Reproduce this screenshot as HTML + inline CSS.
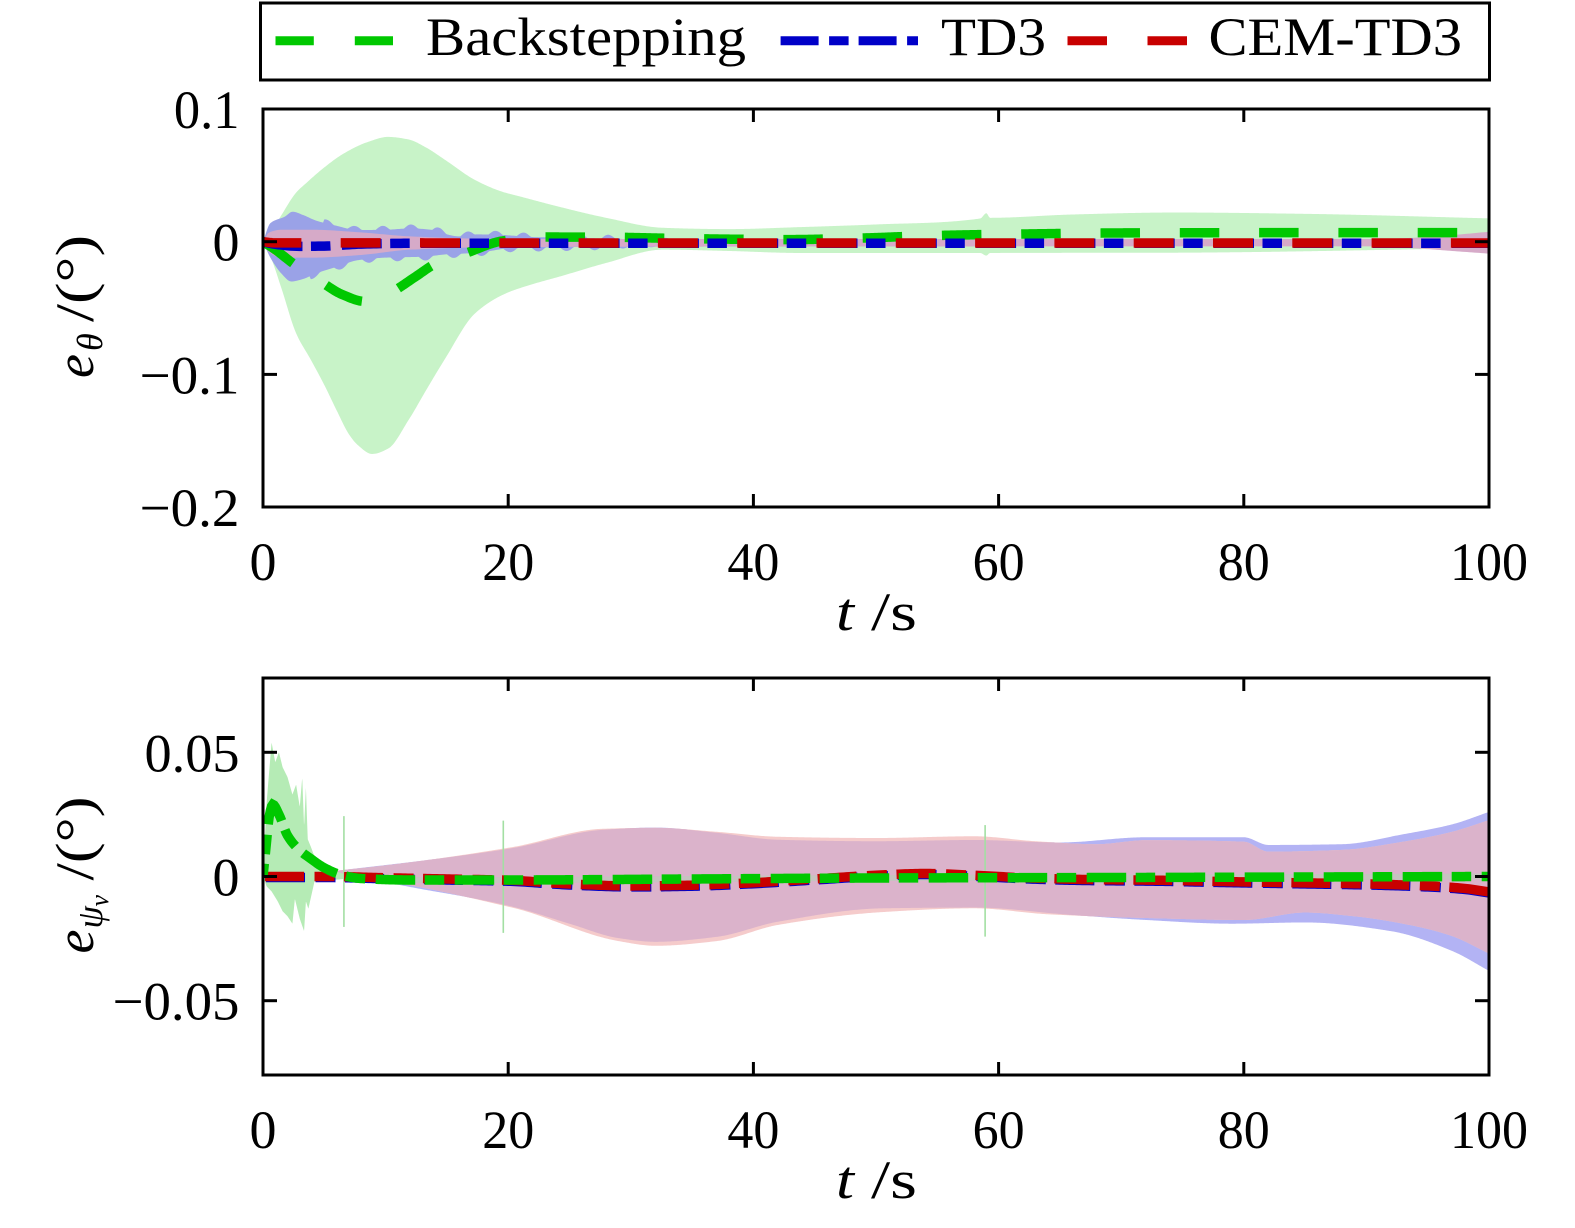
<!DOCTYPE html>
<html>
<head>
<meta charset="utf-8">
<style>
html,body{margin:0;padding:0;background:#fff;overflow:hidden;}
svg{display:block;}
text{font-family:"Liberation Serif","DejaVu Serif",serif;fill:#000;}
</style>
</head>
<body>
<svg id="svg" xmlns="http://www.w3.org/2000/svg" width="1575" height="1228" viewBox="0 0 1575 1228">
<defs>
<clipPath id="c1"><rect x="263" y="109" width="1226" height="398"/></clipPath>
<clipPath id="c2"><rect x="263" y="678" width="1226" height="397"/></clipPath>
</defs>
<rect x="0" y="0" width="1575" height="1228" fill="#fff"/>
<g id="p1" clip-path="url(#c1)"></g>
<g id="p2" clip-path="url(#c2)"></g>

<!-- Frames -->
<rect x="263" y="109" width="1226" height="398" fill="none" stroke="#000" stroke-width="3"/>
<rect x="263" y="678" width="1226" height="397" fill="none" stroke="#000" stroke-width="3"/>

<!-- Ticks top plot -->
<g stroke="#000" stroke-width="3">
<line x1="508.2" y1="109" x2="508.2" y2="122"/><line x1="753.4" y1="109" x2="753.4" y2="122"/><line x1="998.6" y1="109" x2="998.6" y2="122"/><line x1="1243.8" y1="109" x2="1243.8" y2="122"/>
<line x1="508.2" y1="507" x2="508.2" y2="494"/><line x1="753.4" y1="507" x2="753.4" y2="494"/><line x1="998.6" y1="507" x2="998.6" y2="494"/><line x1="1243.8" y1="507" x2="1243.8" y2="494"/>
<line x1="263" y1="241.7" x2="277" y2="241.7"/><line x1="263" y1="374.4" x2="277" y2="374.4"/>
<line x1="1489" y1="241.7" x2="1475" y2="241.7"/><line x1="1489" y1="374.4" x2="1475" y2="374.4"/>
<!-- bottom plot -->
<line x1="508.2" y1="678" x2="508.2" y2="691"/><line x1="753.4" y1="678" x2="753.4" y2="691"/><line x1="998.6" y1="678" x2="998.6" y2="691"/><line x1="1243.8" y1="678" x2="1243.8" y2="691"/>
<line x1="508.2" y1="1075" x2="508.2" y2="1062"/><line x1="753.4" y1="1075" x2="753.4" y2="1062"/><line x1="998.6" y1="1075" x2="998.6" y2="1062"/><line x1="1243.8" y1="1075" x2="1243.8" y2="1062"/>
<line x1="263" y1="752.3" x2="277" y2="752.3"/><line x1="263" y1="876.5" x2="277" y2="876.5"/><line x1="263" y1="1000.7" x2="277" y2="1000.7"/>
<line x1="1489" y1="752.3" x2="1475" y2="752.3"/><line x1="1489" y1="876.5" x2="1475" y2="876.5"/><line x1="1489" y1="1000.7" x2="1475" y2="1000.7"/>
</g>

<!-- Tick labels top -->
<g font-size="54">
<text x="239.5" y="128" text-anchor="end" textLength="65.6" lengthAdjust="spacingAndGlyphs">0.1</text>
<text x="239.5" y="260.7" text-anchor="end">0</text>
<text x="239.5" y="393.4" text-anchor="end" textLength="100" lengthAdjust="spacingAndGlyphs">−0.1</text>
<text x="239.5" y="526" text-anchor="end" textLength="100" lengthAdjust="spacingAndGlyphs">−0.2</text>
<text x="263" y="580" text-anchor="middle">0</text>
<text x="508.2" y="580" text-anchor="middle" textLength="52" lengthAdjust="spacingAndGlyphs">20</text>
<text x="753.4" y="580" text-anchor="middle" textLength="52" lengthAdjust="spacingAndGlyphs">40</text>
<text x="998.6" y="580" text-anchor="middle" textLength="52" lengthAdjust="spacingAndGlyphs">60</text>
<text x="1243.8" y="580" text-anchor="middle" textLength="52" lengthAdjust="spacingAndGlyphs">80</text>
<text x="1489" y="580" text-anchor="middle" textLength="78" lengthAdjust="spacingAndGlyphs">100</text>
<!-- bottom -->
<text x="239.5" y="771.3" text-anchor="end" textLength="95" lengthAdjust="spacingAndGlyphs">0.05</text>
<text x="239.5" y="895.5" text-anchor="end">0</text>
<text x="239.5" y="1019.7" text-anchor="end" textLength="127" lengthAdjust="spacingAndGlyphs">−0.05</text>
<text x="263" y="1148" text-anchor="middle">0</text>
<text x="508.2" y="1148" text-anchor="middle" textLength="52" lengthAdjust="spacingAndGlyphs">20</text>
<text x="753.4" y="1148" text-anchor="middle" textLength="52" lengthAdjust="spacingAndGlyphs">40</text>
<text x="998.6" y="1148" text-anchor="middle" textLength="52" lengthAdjust="spacingAndGlyphs">60</text>
<text x="1243.8" y="1148" text-anchor="middle" textLength="52" lengthAdjust="spacingAndGlyphs">80</text>
<text x="1489" y="1148" text-anchor="middle" textLength="78" lengthAdjust="spacingAndGlyphs">100</text>
</g>

<!-- x axis labels -->
<g font-size="54">
<text x="836" y="630" font-style="italic" textLength="18" lengthAdjust="spacingAndGlyphs">t</text>
<text x="871" y="630" textLength="46" lengthAdjust="spacingAndGlyphs">/s</text>
<text x="836" y="1198" font-style="italic" textLength="18" lengthAdjust="spacingAndGlyphs">t</text>
<text x="871" y="1198" textLength="46" lengthAdjust="spacingAndGlyphs">/s</text>
</g>

<!-- y axis labels (rotated) -->
<g transform="translate(93,308) rotate(-90)">
<text x="-70" y="0" font-size="54" font-style="italic">e</text>
<text x="-43" y="9" font-size="36" font-style="italic">θ</text>
<text x="-14" y="0" font-size="54" textLength="87" lengthAdjust="spacingAndGlyphs">/(°)</text>
</g>
<g transform="translate(93,876.5) rotate(-90)">
<text x="-77" y="0" font-size="54" font-style="italic">e</text>
<text x="-52" y="9" font-size="36" font-style="italic">ψ</text>
<text x="-30" y="15" font-size="26" font-style="italic">v</text>
<text x="-4" y="0" font-size="54" textLength="84" lengthAdjust="spacingAndGlyphs">/(°)</text>
</g>

<!-- Legend -->
<rect x="260.5" y="3" width="1229" height="77" fill="#fff" stroke="#000" stroke-width="3"/>
<line x1="275.5" y1="40.8" x2="393" y2="40.8" stroke="#00c800" stroke-width="9" stroke-dasharray="38.3 41"/>
<line x1="780.6" y1="40.8" x2="918" y2="40.8" stroke="#0000c8" stroke-width="9" stroke-dasharray="38 10.5 19.5 10"/>
<line x1="1067.5" y1="40.8" x2="1187" y2="40.8" stroke="#c80000" stroke-width="9" stroke-dasharray="39.5 40.5"/>
<g font-size="54">
<text x="426" y="55" textLength="320" lengthAdjust="spacingAndGlyphs">Backstepping</text>
<text x="941" y="55" textLength="105" lengthAdjust="spacingAndGlyphs">TD3</text>
<text x="1208.5" y="55" textLength="253.5" lengthAdjust="spacingAndGlyphs">CEM-TD3</text>
</g>
</svg>

<script>
(function(){
var NS="http://www.w3.org/2000/svg";
function el(name, attrs, parent){var e=document.createElementNS(NS,name);for(var k in attrs)e.setAttribute(k,attrs[k]);parent.appendChild(e);return e;}
function pchip(pts){
  var n=pts.length,xs=[],ys=[],h=[],d=[],m=[];
  for(var i=0;i<n;i++){xs.push(pts[i][0]);ys.push(pts[i][1]);}
  for(i=0;i<n-1;i++){h.push(xs[i+1]-xs[i]);d.push((ys[i+1]-ys[i])/h[i]);}
  m[0]=d[0];m[n-1]=d[n-2];
  for(i=1;i<n-1;i++){
    if(d[i-1]*d[i]<=0)m[i]=0;
    else{var w1=2*h[i]+h[i-1],w2=h[i]+2*h[i-1];m[i]=(w1+w2)/(w1/d[i-1]+w2/d[i]);}
  }
  return function(x){
    if(x<=xs[0])return ys[0];
    if(x>=xs[n-1])return ys[n-1];
    var k=0;while(k<n-2&&x>xs[k+1])k++;
    var hh=h[k],t=(x-xs[k])/hh,t2=t*t,t3=t2*t;
    return (2*t3-3*t2+1)*ys[k]+(t3-2*t2+t)*hh*m[k]+(-2*t3+3*t2)*ys[k+1]+(t3-t2)*hh*m[k+1];
  };
}
function lin(pts){
  return function(x){
    if(x<=pts[0][0])return pts[0][1];
    for(var i=0;i<pts.length-1;i++){
      if(x<=pts[i+1][0]){var a=pts[i],b=pts[i+1];return a[1]+(b[1]-a[1])*(x-a[0])/(b[0]-a[0]);}
    }
    return pts[pts.length-1][1];
  };
}
var X=function(t){return 263+t*12.26;};
var Y1=function(v){return 241.7-v*1326.7;};
var Y2=function(v){return 876.5-v*2484;};
function linePath(f,Y,t0,t1,N){
  var d="";for(var i=0;i<=N;i++){var t=t0+(t1-t0)*i/N;d+=(i?"L":"M")+X(t).toFixed(2)+","+Y(f(t)).toFixed(2);}return d;
}
function bandPath(fu,fl,Y,t0,t1,N){
  var d="";var i,t;
  for(i=0;i<=N;i++){t=t0+(t1-t0)*i/N;d+=(i?"L":"M")+X(t).toFixed(2)+","+Y(fu(t)).toFixed(2);}
  for(i=N;i>=0;i--){t=t0+(t1-t0)*i/N;d+="L"+X(t).toFixed(2)+","+Y(fl(t)).toFixed(2);}
  return d+"Z";
}
function align(path,xT,P){
  try{
    var L=path.getTotalLength(),lo=0,hi=L;
    for(var i=0;i<40;i++){var mid=(lo+hi)/2;if(path.getPointAtLength(mid).x<xT)lo=mid;else hi=mid;}
    var off=(P-(lo%P))%P;path.setAttribute("stroke-dashoffset",off.toFixed(2));
  }catch(e){}
}
var p1=document.getElementById("p1"),p2=document.getElementById("p2");

/* ---------------- TOP PLOT ---------------- */
var GU1=pchip([[0,0],[0.6,0.0066],[1.5,0.02],[2.7,0.037],[3.5,0.044],[5,0.056],[6.5,0.066],[8.5,0.075],[10.2,0.079],[11.9,0.077],[13.3,0.071],[14.8,0.062],[17.3,0.0465],[19.5,0.0377],[21,0.034],[24.3,0.026],[28,0.018],[32.6,0.0105],[38,0.0095],[43.8,0.011],[50,0.013],[58.5,0.0175],[59,0.0215],[59.3,0.018],[66,0.0205],[74.4,0.022],[85,0.021],[100,0.0176]]);
var GL1=pchip([[0,0],[0.6,-0.011],[1.5,-0.035],[2.7,-0.069],[3.9,-0.089],[5,-0.108],[6,-0.127],[7,-0.145],[7.7,-0.153],[8.9,-0.160],[10.2,-0.156],[11.9,-0.134],[13.3,-0.112],[14.8,-0.089],[17.3,-0.054],[19.8,-0.039],[22,-0.032],[24.3,-0.026],[28,-0.016],[32.6,-0.006],[38,-0.007],[43.8,-0.0085],[58.5,-0.0085],[59,-0.0105],[59.3,-0.0085],[74,-0.0083],[100,-0.0048]]);
el("path",{d:bandPath(GU1,GL1,Y1,0,100,1000),fill:"#c8f3c8",stroke:"none"},p1);

var bu1=pchip([[0,0],[0.6,0.014],[1.8,0.019],[2.4,0.0226],[3.3,0.020],[4.3,0.016],[6,0.012],[7.7,0.0088],[10,0.009],[12,0.010],[13.9,0.0088],[15,0.0055],[16,0.0040],[17.5,0.0055],[19.6,0.005],[22,0.0035],[25,0.003],[30,0.002],[40,0.0015],[100,0.0012]]);
var bl1=pchip([[0,0],[0.6,-0.012],[1.5,-0.024],[2.3,-0.030],[3.3,-0.028],[4.3,-0.024],[6,-0.019],[7.7,-0.014],[10,-0.012],[13.1,-0.0113],[15,-0.0095],[16.8,-0.0087],[18.5,-0.007],[20,-0.005],[25,-0.004],[30,-0.003],[40,-0.003],[100,-0.0028]]);
function wob(t){var A=t<5?0:(t<28?0.003:(t<36?0.003*(36-t)/8:0));return A*Math.max(0,Math.sin(2*Math.PI*t/2.3));}
el("path",{d:bandPath(function(t){return bu1(t)+wob(t);},function(t){return bl1(t)-wob(t+1.1);},Y1,0,100,1000),fill:"#9aa2e7",stroke:"none"},p1);

var pu1=pchip([[0,0],[0.5,0.007],[1.5,0.009],[4,0.009],[8,0.007],[12,0.004],[20,0.002],[90,0.002],[94,0.003],[97,0.005],[100,0.0075]]);
var pl1=pchip([[0,0],[0.5,-0.008],[1.5,-0.012],[4,-0.012],[8,-0.010],[12,-0.006],[20,-0.004],[90,-0.0035],[94,-0.005],[97,-0.007],[100,-0.009]]);
el("path",{d:bandPath(pu1,pl1,Y1,0,100,500),fill:"#d6aac8",stroke:"none"},p1);

var G1=pchip([[0,0],[1,-0.006],[2.4,-0.016],[4.7,-0.030],[6.5,-0.040],[8.3,-0.045],[9.5,-0.0435],[10.8,-0.0365],[12.5,-0.026],[14,-0.017],[16.6,-0.0085],[19.5,0.0005],[23,0.0035],[28,0.0034],[33,0.0026],[38,0.0019],[43,0.0016],[49,0.0028],[55,0.0047],[62,0.0058],[70,0.0066],[80,0.0068],[100,0.0068]]);
var B1=pchip([[0,0],[1,-0.002],[3,-0.0035],[5,-0.0033],[8,-0.0018],[12,-0.0012],[100,-0.0012]]);
var R1=pchip([[0,0],[1,-0.0009],[100,-0.001]]);
var gp1=el("path",{d:linePath(G1,Y1,0,100,1000),fill:"none",stroke:"#00c800","stroke-width":"9.5","stroke-dasharray":"39.5 39.8"},p1);
var bp1=el("path",{d:linePath(B1,Y1,0,100,400),fill:"none",stroke:"#0000c8","stroke-width":"9.5","stroke-dasharray":"40 8.5 19.5 11.3"},p1);
var rp1=el("path",{d:linePath(R1,Y1,0,100,400),fill:"none",stroke:"#c80000","stroke-width":"9.5","stroke-dasharray":"40 39.3"},p1);
align(gp1,1100.5,79.3);align(bp1,817.5,79.3);align(rp1,816.5,79.3);

/* ---------------- BOTTOM PLOT ---------------- */
var bu2=pchip([[0,0],[3,0.0005],[6.5,0.0026],[14,0.007],[20.3,0.0114],[27.7,0.0188],[32,0.0197],[37,0.0176],[42,0.0148],[50,0.0142],[58,0.0147],[65,0.0137],[72,0.0158],[80,0.0158],[82,0.0127],[88,0.013],[93,0.017],[97,0.021],[100,0.026]]);
var bl2=pchip([[0,0],[3,-0.0003],[6.5,-0.0006],[14,-0.006],[20.3,-0.0121],[25,-0.019],[29,-0.0248],[32,-0.0263],[37,-0.0243],[42,-0.0182],[50.6,-0.0128],[58,-0.0125],[66,-0.0155],[72,-0.0175],[79,-0.019],[85,-0.0185],[92,-0.022],[97,-0.030],[100,-0.038]]);
var pu2=pchip([[0,0],[6.5,0.0026],[20.3,0.0118],[27.7,0.0192],[32,0.0196],[37,0.0180],[42,0.0160],[50,0.0155],[58,0.0162],[63,0.0142],[68,0.0130],[72,0.0146],[80,0.0140],[82,0.0100],[88,0.0107],[93,0.014],[97,0.018],[100,0.0227]]);
var pl2=pchip([[0,0],[6.5,-0.0006],[20.3,-0.0125],[29,-0.026],[32,-0.0279],[37,-0.026],[42,-0.0195],[50.6,-0.0143],[58,-0.0128],[64,-0.0152],[72,-0.0167],[80,-0.0175],[85,-0.0145],[89,-0.016],[94,-0.020],[97,-0.024],[100,-0.031]]);
el("path",{d:bandPath(bu2,bl2,Y2,0,100,1000),fill:"#b3b3f4",stroke:"none"},p2);
el("path",{d:bandPath(pu2,pl2,Y2,0,100,1000),fill:"#f5cbcb",stroke:"none"},p2);
el("path",{d:bandPath(function(t){return Math.min(bu2(t),pu2(t));},function(t){return Math.max(bl2(t),pl2(t));},Y2,0,100,1000),fill:"#dbb3cb",stroke:"none"},p2);

var GU2=lin([[0,0],[0.3,0.03],[0.7,0.054],[1,0.046],[1.3,0.05],[1.6,0.044],[2,0.04],[2.4,0.033],[2.7,0.037],[3,0.028],[3.2,0.04],[3.35,0.02],[3.5,0.036],[3.65,0.015],[3.9,0.012],[4.2,0.008],[5,0.004],[6,0.002],[6.6,0.001]]);
var GL2=lin([[0,0],[0.3,-0.004],[0.7,-0.006],[1.2,-0.010],[1.6,-0.014],[2,-0.016],[2.4,-0.019],[2.6,-0.009],[3,-0.017],[3.35,-0.022],[3.5,-0.01],[3.7,-0.013],[4.2,-0.002],[6.6,-0.001]]);
el("path",{d:bandPath(GU2,GL2,Y2,0,6.6,300),fill:"#b5ebb5",stroke:"none"},p2);
var vl=[[6.6,0.0243,-0.0203],[19.6,0.0225,-0.0227],[58.9,0.0207,-0.0242]];
for(var i=0;i<vl.length;i++){el("line",{x1:X(vl[i][0]),x2:X(vl[i][0]),y1:Y2(vl[i][1]),y2:Y2(vl[i][2]),stroke:"#a3dfa3","stroke-width":"1.6"},p2);}

var G2=pchip([[0,0],[0.25,0.012],[0.5,0.024],[0.8,0.029],[1.3,0.025],[2,0.0165],[3,0.0105],[3.8,0.0075],[5,0.0035],[6.4,0.0006],[8,-0.0008],[12,-0.0014],[20,-0.0014],[35,-0.001],[50,-0.0006],[70,-0.0004],[100,0]]);
var R2=pchip([[0,0],[5,0],[10,-0.0005],[15,-0.001],[20,-0.0015],[25,-0.003],[30,-0.0038],[35,-0.0035],[40,-0.0025],[45,-0.001],[50,0.0005],[54,0.0012],[58,0.0005],[62,-0.0005],[67,-0.0012],[73,-0.0015],[78,-0.002],[84,-0.0025],[90,-0.003],[95,-0.0038],[98,-0.0048],[100,-0.0062]]);
el("path",{d:linePath(G2,Y2,6.6,100,400),fill:"none",stroke:"rgba(185,205,185,0.6)","stroke-width":"6"},p2);
var bp2=el("path",{d:linePath(function(t){return R2(t)-0.0004;},Y2,0,100,500),fill:"none",stroke:"#0000c8","stroke-width":"9.5","stroke-dasharray":"39 10.5 20 9.5"},p2);
var rp2=el("path",{d:linePath(R2,Y2,0,100,500),fill:"none",stroke:"#c80000","stroke-width":"9.5","stroke-dasharray":"39 10.5 20 9.5"},p2);
var gp2=el("path",{d:linePath(G2,Y2,0,100,1000),fill:"none",stroke:"#00c800","stroke-width":"9.5","stroke-dasharray":"39.5 9.5 19.5 10.5"},p2);
align(bp2,424,79);align(rp2,423,79);align(gp2,533.7,79);
})();
</script>
</body>
</html>
